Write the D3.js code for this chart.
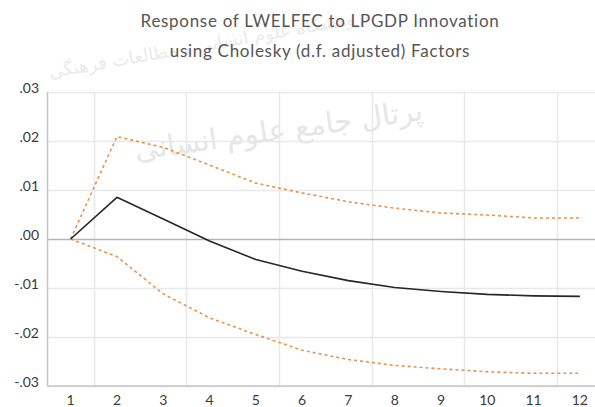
<!DOCTYPE html>
<html>
<head>
<meta charset="utf-8">
<script src="https://cdn.jsdelivr.net/npm/d3@7"></script>
<style>
  body { margin: 0; background: #fff; }
  #chart-container { width: 595px; height: 407px; overflow: hidden; }
</style>
</head>
<body>
<div id="chart-container"></div>
<script>
const periods = [1, 2, 3, 4, 5, 6, 7, 8, 9, 10, 11, 12];
const response = [0, 0.0085, 0.0041, -0.0004, -0.0042, -0.0066, -0.0085, -0.0099, -0.0107, -0.0113, -0.0116, -0.0117];
const upperBand = [0, 0.0209, 0.0187, 0.0151, 0.0114, 0.0094, 0.0076, 0.0063, 0.0053, 0.0049, 0.0043, 0.0043];
const lowerBand = [0, -0.0036, -0.0112, -0.0161, -0.0195, -0.0227, -0.0246, -0.0258, -0.0265, -0.0271, -0.0274, -0.0274];
const yTicks = [0.03, 0.02, 0.01, 0, -0.01, -0.02, -0.03];
const gridX = [1.5, 3.5, 5.5, 7.5, 9.5, 11.5];
const titleLines = ["Response of LWELFEC to LPGDP Innovation", "using Cholesky (d.f. adjusted) Factors"];
const watermark = ["پژوهشگاه علوم انسانی و مطالعات فرهنگی", "پرتال جامع علوم انسانی"];

const width = 595, height = 407;
const margin = { top: 92, right: -8, bottom: 21, left: 47 };

const svg = d3
  .select("#chart-container")
  .append("svg")
  .attr("width", width)
  .attr("height", height);

// faint watermark behind everything
svg.append("text")
  .attr("x", 210).attr("y", 50)
  .attr("text-anchor", "middle")
  .attr("font-family", "DejaVu Sans")
  .attr("font-size", 18)
  .attr("fill", "#ebebeb")
  .attr("transform", "rotate(-10,210,50)")
  .text(watermark[0]);
svg.append("text")
  .attr("x", 280).attr("y", 140)
  .attr("text-anchor", "middle")
  .attr("font-family", "DejaVu Sans")
  .attr("font-size", 29)
  .attr("fill", "#e6e6e6")
  .attr("transform", "rotate(-8,280,140)")
  .text(watermark[1]);

const x = d3.scaleLinear()
  .domain([0.5, 12.5])
  .range([margin.left + 0.5, width - margin.right]);

const y = d3.scaleLinear()
  .domain([-0.03, 0.03])
  .range([height - margin.bottom, margin.top]);

const g = svg.append("g");

// horizontal gridlines
g.selectAll(".hgrid")
  .data(yTicks.filter((d) => d !== 0))
  .join("line")
  .attr("x1", x(0.5)).attr("x2", x(12.5))
  .attr("y1", (d) => Math.round(y(d)) + 0.5)
  .attr("y2", (d) => Math.round(y(d)) + 0.5)
  .attr("stroke", "#e8e8e8")
  .attr("stroke-width", 1.5);

// vertical gridlines between periods
g.selectAll(".vgrid")
  .data(gridX)
  .join("line")
  .attr("x1", (d) => Math.round(x(d)) + 0.5)
  .attr("x2", (d) => Math.round(x(d)) + 0.5)
  .attr("y1", y(0.03)).attr("y2", y(-0.03))
  .attr("stroke", "#e8e8e8")
  .attr("stroke-width", 1.5);

// zero line
g.append("line")
  .attr("x1", x(0.5)).attr("x2", x(12.5))
  .attr("y1", Math.round(y(0)) + 0.5).attr("y2", Math.round(y(0)) + 0.5)
  .attr("stroke", "#b4b4b4")
  .attr("stroke-width", 1.5);

// left and bottom frame
g.append("line")
  .attr("x1", x(0.5)).attr("x2", x(0.5))
  .attr("y1", y(0.03)).attr("y2", y(-0.03))
  .attr("stroke", "#c4c4c4").attr("stroke-width", 1.5);
g.append("line")
  .attr("x1", x(0.5)).attr("x2", x(12.5))
  .attr("y1", y(-0.03)).attr("y2", y(-0.03))
  .attr("stroke", "#c4c4c4").attr("stroke-width", 1.5);

const line = d3.line()
  .x((d, i) => x(periods[i]))
  .y((d) => y(d));

[upperBand, lowerBand].forEach((band) => {
  g.append("path")
    .datum(band)
    .attr("fill", "none")
    .attr("stroke", "#e8924a")
    .attr("stroke-width", 1.6)
    .attr("stroke-dasharray", "3,3")
    .attr("d", line);
});

g.append("path")
  .datum(response)
  .attr("fill", "none")
  .attr("stroke", "#262626")
  .attr("stroke-width", 1.6)
  .attr("stroke-linejoin", "round")
  .attr("d", line);

// y labels
const fmt = (d) => {
  const s = Math.abs(d).toFixed(2).replace(/^0/, "");
  return d < 0 ? "-" + s : s;
};
svg.selectAll(".ylab")
  .data(yTicks)
  .join("text")
  .attr("x", 39)
  .attr("y", (d) => y(d) + 1)
  .attr("text-anchor", "end")
  .attr("font-family", "Lato, sans-serif")
  .attr("font-size", 14)
  .attr("fill", "#3a3a3a")
  .text(fmt);

// x labels
svg.selectAll(".xlab")
  .data(periods)
  .join("text")
  .attr("x", (d) => x(d))
  .attr("y", 405)
  .attr("text-anchor", "middle")
  .attr("font-family", "Lato, sans-serif")
  .attr("font-size", 14)
  .attr("fill", "#3a3a3a")
  .text((d) => d);

// title
svg.selectAll(".title")
  .data(titleLines)
  .join("text")
  .attr("x", 320)
  .attr("y", (d, i) => 27 + i * 30)
  .attr("text-anchor", "middle")
  .attr("font-family", "Lato, sans-serif")
  .attr("font-size", 17)
  .attr("letter-spacing", 0.7)
  .attr("fill", "#555")
  .text((d) => d);
</script>
</body>
</html>
